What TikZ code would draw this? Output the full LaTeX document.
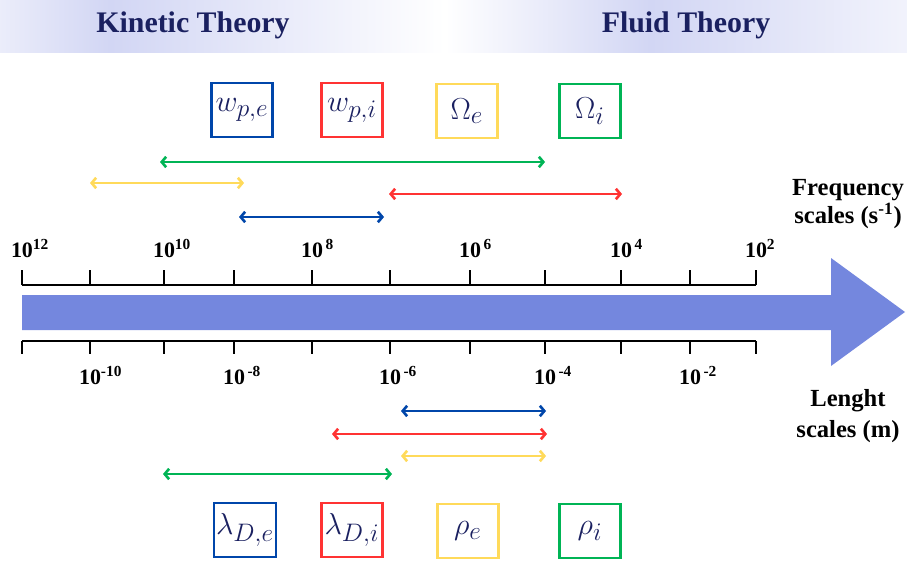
\documentclass[tikz,border=0pt]{standalone}
\usepackage{xcolor}
\usepackage{amsmath}
\usepackage{amssymb}
\usepackage{fontspec}
\setmainfont{Liberation Serif}
\usepackage{tikz}
\usetikzlibrary{arrows.meta,positioning,calc}

\definecolor{navy}{RGB}{26,32,96}
\definecolor{bandlav}{RGB}{210,214,244}
\definecolor{axisblue}{RGB}{116,135,222}
\definecolor{cblue}{RGB}{0,70,170}
\definecolor{cred}{RGB}{255,51,51}
\definecolor{cyellow}{RGB}{255,218,90}
\definecolor{cgreen}{RGB}{0,180,85}

\begin{document}
\begin{tikzpicture}[
        x=0.02cm, y=-0.02cm,
        heading/.style={font=\fontsize{17}{20}\selectfont\bfseries, text=navy},
        qbox/.style={rectangle, draw, line width=1.2pt, minimum width=1.22cm, minimum height=1.07cm, inner sep=1pt, text=navy, font=\fontsize{19}{22}\selectfont},
        ticklabel/.style={font=\fontsize{12.5}{14}\selectfont\bfseries, anchor=base, inner sep=0pt},
        scalelabel/.style={font=\fontsize{14}{16}\selectfont\bfseries, align=center},
        rangearrow/.style={{Straight Barb[length=2.5pt,width=6pt]}-{Straight Barb[length=2.5pt,width=6pt]}, line width=1.5pt},
        ruler/.style={line width=1.1pt}
    ]

    \useasboundingbox (0,0) rectangle (907,561);

    \shade[left color=bandlav!45, right color=bandlav] (0,0) rectangle (110,52);
    \shade[left color=bandlav, right color=white] (110,0) rectangle (445,52);
    \shade[left color=white, right color=bandlav] (445,0) rectangle (650,52);
    \shade[left color=bandlav, right color=bandlav!30] (650,0) rectangle (907,52);

    \node[heading] (kinetic) at (193,25) {Kinetic Theory};
    \node[heading] (fluid) at (686,25) {Fluid Theory};

    \node[qbox, draw=cblue] (wpe) at (242,110) {$w_{p,e}$};
    \node[qbox, draw=cred] (wpi) at (352,110) {$w_{p,i}$};
    \node[qbox, draw=cyellow] (Oe) at (467,111) {$\Omega_e$};
    \node[qbox, draw=cgreen] (Oi) at (590,111) {$\Omega_i$};

    \node[qbox, draw=cblue] (lDe) at (245,530) {$\lambda_{D,e}$};
    \node[qbox, draw=cred] (lDi) at (352,530) {$\lambda_{D,i}$};
    \node[qbox, draw=cyellow] (rhoe) at (468,531) {$\rho_e$};
    \node[qbox, draw=cgreen] (rhoi) at (590,531) {$\rho_i$};

    \fill[axisblue] (22,295) -- (831,295) -- (831,258) -- (905,312) -- (831,366) -- (831,330) -- (22,330) -- cycle;

    \foreach \x [count=\i] in {22,90,164,234,312,390,470,545,621,690,756} {
        \coordinate (t\i) at (\x,285);
        \coordinate (b\i) at (\x,341);
        \draw[ruler] (t\i) -- ++(0,-15);
        \draw[ruler] (b\i) -- ++(0,13);
    }
    \draw[ruler] (t1) -- (t11);
    \draw[ruler] (b1) -- (b11);

    \foreach \i/\e in {1/12,3/10,5/\,8,7/\,6,9/\,4,11/2}
        \node[ticklabel] (f\i) at ($(t\i)+(0,-28)$) {10\rlap{\textsuperscript{\e}}};
    \foreach \i/\e in {2/-10,4/\,-8,6/\,-6,8/\,-4,10/\,-2}
        \node[ticklabel] (l\i) at ($(b\i)+(0,43)$) {10\rlap{\textsuperscript{\e}}};

    \node[scalelabel] (freq) at (848,204) {Frequency\\scales (s\textsuperscript{-1})};
    \node[scalelabel] (length) at (848,416) {Lenght\\[2pt]scales (m)};

    \coordinate (fg1) at (160,162); \coordinate (fg2) at (545,162);
    \coordinate (fy1) at (90,183);  \coordinate (fy2) at (244,183);
    \coordinate (fr1) at (389,194); \coordinate (fr2) at (622,194);
    \coordinate (fb1) at (239,217); \coordinate (fb2) at (384,217);

    \coordinate (lb1) at (401,411); \coordinate (lb2) at (546,411);
    \coordinate (lr1) at (332,434); \coordinate (lr2) at (547,434);
    \coordinate (ly1) at (401,456); \coordinate (ly2) at (546,456);
    \coordinate (lg1) at (163,474); \coordinate (lg2) at (392,474);

\draw[rangearrow, cgreen] (fg1) -- (fg2);
\draw[rangearrow, cyellow] (fy1) -- (fy2);
\draw[rangearrow, cred] (fr1) -- (fr2);
\draw[rangearrow, cblue] (fb1) -- (fb2);

\draw[rangearrow, cblue] (lb1) -- (lb2);
\draw[rangearrow, cred] (lr1) -- (lr2);
\draw[rangearrow, cyellow] (ly1) -- (ly2);
\draw[rangearrow, cgreen] (lg1) -- (lg2);

    \end{tikzpicture}
\end{document}
